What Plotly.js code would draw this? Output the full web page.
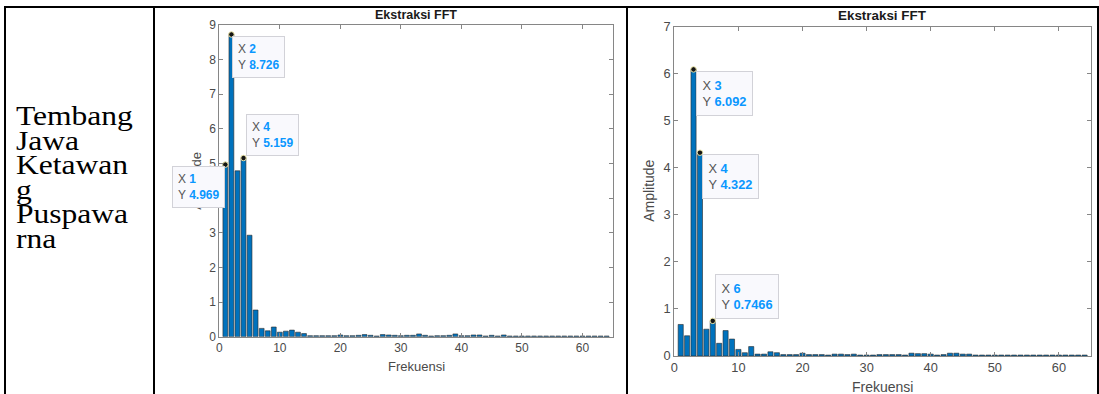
<!DOCTYPE html>
<html><head><meta charset="utf-8">
<script src="https://cdn.plot.ly/plotly-3.0.1.min.js"></script>
<style>
html,body{margin:0;padding:0;background:#fff;width:1099px;height:394px;overflow:hidden}
#wrap{position:relative;width:1099px;height:394px}
#chart{position:absolute;left:0;top:0;width:1099px;height:394px}
.bl{position:absolute;background:#000}
#label{position:absolute;left:16px;top:104px;font-family:"Liberation Serif","Times New Roman",serif;font-size:26.5px;line-height:24.5px;color:#000;white-space:nowrap;transform:scaleX(1.19);transform-origin:0 0}
</style></head>
<body><div id="wrap">
<div id="chart"></div>
<div id="label"></div>
<div class="bl" style="left:4px;top:6px;width:1095px;height:2px"></div>
<div class="bl" style="left:4px;top:6px;width:2px;height:388px"></div>
<div class="bl" style="left:153px;top:6px;width:2px;height:388px"></div>
<div class="bl" style="left:626px;top:6px;width:2px;height:388px"></div>
<div class="bl" style="left:1097px;top:6px;width:2px;height:388px"></div>
</div>
<script>
// ---- data ----
const rowLabelLines = ["Tembang", "Jawa", "Ketawan", "g", "Puspawa", "rna"];
const chartTitle = "Ekstraksi FFT";
const xTitle = "Frekuensi";
const yTitle = "Amplitude";
const freq = [1,2,3,4,5,6,7,8,9,10,11,12,13,14,15,16,17,18,19,20,21,22,23,24,25,26,27,28,29,30,31,32,
  33,34,35,36,37,38,39,40,41,42,43,44,45,46,47,48,49,50,51,52,53,54,55,56,57,58,59,60,61,62,63,64];
const amp1 = [4.969, 8.726, 4.79, 5.159, 2.93, 0.77, 0.24, 0.17, 0.28, 0.13, 0.16, 0.19, 0.13, 0.09,
  0.03, 0.03, 0.03, 0.03, 0.03, 0.05, 0.03, 0.03, 0.04, 0.06, 0.04, 0.02, 0.06, 0.05, 0.04, 0.03,
  0.04, 0.04, 0.08, 0.04, 0.02, 0.03, 0.03, 0.04, 0.08, 0.03, 0.03, 0.05, 0.05, 0.02, 0.04, 0.02, 0.05,
  0.02, 0.02, 0.02, 0.02, 0.02, 0.02, 0.02, 0.02, 0.02, 0.02, 0.02, 0.02, 0.02, 0.02, 0.02, 0.02, 0.02];
const amp2 = [0.67, 0.43, 6.092, 4.322, 0.57, 0.7466, 0.27, 0.54, 0.36, 0.14, 0.07, 0.20, 0.04, 0.04,
  0.09, 0.07, 0.03, 0.03, 0.03, 0.06, 0.03, 0.03, 0.03, 0.02, 0.04, 0.04, 0.03, 0.04, 0.02, 0.02,
  0.02, 0.03, 0.03, 0.03, 0.03, 0.02, 0.06, 0.05, 0.05, 0.04, 0.02, 0.03, 0.06, 0.06, 0.04, 0.04,
  0.02, 0.02, 0.02, 0.02, 0.02, 0.02, 0.02, 0.02, 0.02, 0.02, 0.02, 0.02, 0.02, 0.02, 0.02, 0.02, 0.02, 0.02];
const tips1 = [1, 2, 4];   // datatip frequencies, chart 1
const tips2 = [3, 4, 6];   // datatip frequencies, chart 2
const xTicks = [0, 10, 20, 30, 40, 50, 60];
const yTicks1 = [0, 1, 2, 3, 4, 5, 6, 7, 8, 9];
const yTicks2 = [0, 1, 2, 3, 4, 5, 6, 7];

document.getElementById('label').innerHTML = rowLabelLines.join('<br>');

// ---- styling ----
const W = 1099, H = 394;
const FONT = '"Liberation Sans", Arial, Helvetica, sans-serif';
const BAR = '#0072BD';
const AX = '#868686';
const TXT = '#4a4a4a';
const BLUE = '#0a97ff';

function px2x(p){return p / W;}
function px2y(p){return 1 - p / H;}

function bars(x, y, xa, ya){
  return {type:'bar', x:x, y:y, xaxis:xa, yaxis:ya, width:0.8,
    marker:{color:BAR, line:{color:'#2a2a2a', width:0.6}}, hoverinfo:'skip', showlegend:false};
}
function tipPts(tips, amp, xa, ya){
  return {type:'scatter', mode:'markers', x:tips, y:tips.map(t => amp[freq.indexOf(t)]),
    xaxis:xa, yaxis:ya, marker:{size:5.5, color:'#151515', line:{color:'#ece6a8', width:1}},
    hoverinfo:'skip', showlegend:false, cliponaxis:false};
}
function fmt(v){return String(Number(v.toPrecision(4)));}
function tipText(x, v){
  return 'X <b><span style="color:' + BLUE + '">' + x + '</span></b><br>Y <b><span style="color:' + BLUE + '">' + fmt(v) + '</span></b>';
}
function tipAnn(x, amp, xr, yr, xanchor, yanchor, xs, ys, fs, pad){
  return {xref:xr, yref:yr, x:x, y:amp[freq.indexOf(x)], text:tipText(x, amp[freq.indexOf(x)]),
    showarrow:false, xanchor:xanchor, yanchor:yanchor, xshift:xs, yshift:ys, align:'left',
    bgcolor:'#f9f9fd', bordercolor:'#d2d2d8', borderwidth:1, borderpad:pad,
    font:{family:FONT, size:fs, color:'#555'}};
}
function axisX(domain, fs, anchor){
  return {domain:domain, anchor:anchor, range:[0,65], tickvals:xTicks, ticktext:xTicks.map(String),
    ticks:'inside', ticklen:4, tickcolor:AX, showline:true, linecolor:AX, linewidth:1, mirror:'ticks',
    showgrid:false, zeroline:false, tickfont:{family:FONT, size:fs, color:TXT}, fixedrange:true};
}
function axisY(domain, fs, anchor, ticks, top){
  return {domain:domain, anchor:anchor, range:[0,top], tickvals:ticks, ticktext:ticks.map(String),
    ticks:'inside', ticklen:4, tickcolor:AX, showline:true, linecolor:AX, linewidth:1, mirror:'ticks',
    showgrid:false, zeroline:false, tickfont:{family:FONT, size:fs, color:TXT}, fixedrange:true};
}

const data = [
  bars(freq, amp1, 'x', 'y'),
  bars(freq, amp2, 'x2', 'y2'),
  tipPts(tips1, amp1, 'x', 'y'),
  tipPts(tips2, amp2, 'x2', 'y2')
];

const annotations = [
  {xref:'x domain', yref:'paper', x:0.5, y:px2y(15), text:'<b>' + chartTitle + '</b>', showarrow:false,
   xanchor:'center', yanchor:'middle', font:{family:FONT, size:12.5, color:'#1a1a1a'}},
  {xref:'x2 domain', yref:'paper', x:0.5, y:px2y(15.5), text:'<b>' + chartTitle + '</b>', showarrow:false,
   xanchor:'center', yanchor:'middle', font:{family:FONT, size:13.4, color:'#1a1a1a'}},
  {xref:'x domain', yref:'paper', x:0.5, y:px2y(366.5), text:xTitle, showarrow:false,
   xanchor:'center', yanchor:'middle', font:{family:FONT, size:13, color:TXT}},
  {xref:'x2 domain', yref:'paper', x:0.5, y:px2y(386.5), text:xTitle, showarrow:false,
   xanchor:'center', yanchor:'middle', font:{family:FONT, size:14, color:TXT}},
  {xref:'paper', yref:'y domain', x:px2x(197), y:0.5, text:yTitle, textangle:-90, showarrow:false,
   xanchor:'center', yanchor:'middle', font:{family:FONT, size:13, color:TXT}},
  {xref:'paper', yref:'y2 domain', x:px2x(649.5), y:0.5, text:yTitle, textangle:-90, showarrow:false,
   xanchor:'center', yanchor:'middle', font:{family:FONT, size:14, color:TXT}},
  tipAnn(tips1[0], amp1, 'x', 'y', 'right', 'top', 0, -1, 12, 5),
  tipAnn(tips1[1], amp1, 'x', 'y', 'left', 'top', 1, -1.5, 12, 5),
  tipAnn(tips1[2], amp1, 'x', 'y', 'left', 'bottom', 2, 2, 12, 5),
  tipAnn(tips2[0], amp2, 'x2', 'y2', 'left', 'top', 2.5, -1.3, 12.8, 5.5),
  tipAnn(tips2[1], amp2, 'x2', 'y2', 'left', 'top', 2, -1.3, 12.8, 5.5),
  tipAnn(tips2[2], amp2, 'x2', 'y2', 'left', 'bottom', 2.3, 2, 12.8, 5.5)
];

const layout = {
  width:W, height:H, margin:{l:0, r:0, t:0, b:0},
  paper_bgcolor:'rgba(0,0,0,0)', plot_bgcolor:'#fff',
  showlegend:false, bargap:0.2,
  xaxis: axisX([px2x(219.3), px2x(612.7)], 12, 'y'),
  yaxis: axisY([px2y(336.7), px2y(25)], 12, 'x', yTicks1, 9),
  xaxis2: axisX([px2x(674.3), px2x(1091)], 12.8, 'y2'),
  yaxis2: axisY([px2y(356), px2y(26.7)], 12.8, 'x2', yTicks2, 7),
  annotations: annotations
};

Plotly.newPlot('chart', data, layout, {staticPlot:true, displayModeBar:false});
</script>
</body></html>
